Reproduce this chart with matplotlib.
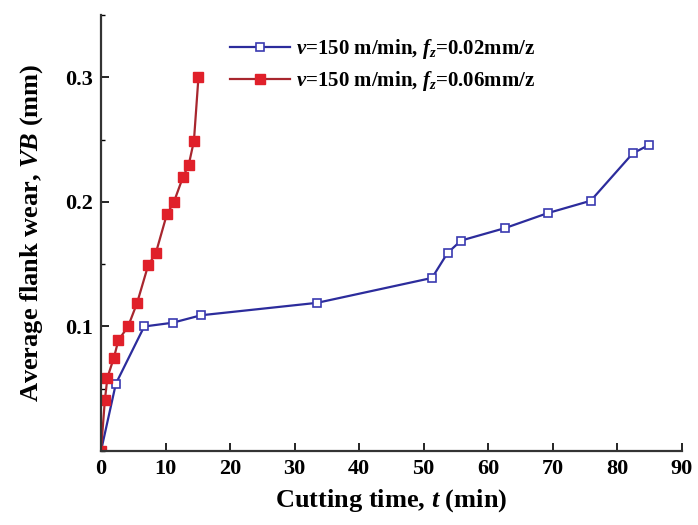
import matplotlib
matplotlib.use('Agg')
import matplotlib.pyplot as plt
from matplotlib.ticker import MultipleLocator

# flank wear data
time_fz002 = [0, 2.3, 6.7, 11.1, 15.5, 33.5, 51.3, 53.7, 55.8, 62.6, 69.2, 75.9, 82.4, 85.0]
wear_fz002 = [0, 0.054, 0.100, 0.103, 0.109, 0.119, 0.139, 0.159, 0.169, 0.179, 0.191, 0.201, 0.239, 0.246]

time_fz006 = [0, 0.6, 1.0, 2.0, 2.7, 4.2, 5.6, 7.3, 8.5, 10.2, 11.3, 12.7, 13.6, 14.4, 15.1]
wear_fz006 = [0, 0.041, 0.059, 0.075, 0.089, 0.100, 0.119, 0.149, 0.159, 0.190, 0.200, 0.220, 0.230, 0.249, 0.300]

label_fz002 = r'$v$=150 m/min, $f_z$=0.02mm/z'
label_fz006 = r'$v$=150 m/min, $f_z$=0.06mm/z'

plt.rcParams['font.family'] = 'Liberation Serif'
plt.rcParams['font.weight'] = 'bold'
plt.rcParams['axes.labelweight'] = 'bold'
plt.rcParams['mathtext.fontset'] = 'custom'
plt.rcParams['mathtext.rm'] = 'Liberation Serif:bold'
plt.rcParams['mathtext.it'] = 'Liberation Serif:italic:bold'
plt.rcParams['mathtext.bf'] = 'Liberation Serif:bold'

fig = plt.figure(figsize=(6.98, 5.25), dpi=100)
ax = fig.add_axes([0.1447, 0.141, 0.832, 0.830])

ax.plot(time_fz002, wear_fz002, color='#2c2c9c', lw=1.6, marker='s', markersize=6,
        markerfacecolor='white', markeredgecolor='#3a3ab0', markeredgewidth=1.2,
        label=label_fz002)
ax.plot(time_fz006, wear_fz006, color='#a8262e', lw=1.6, marker='s', markersize=7,
        markerfacecolor='#e0202a', markeredgecolor='#e0202a',
        label=label_fz006)

ax.set_xlim(0, 90)
ax.set_ylim(0, 0.35)
ax.xaxis.set_major_locator(MultipleLocator(10))
ax.set_yticks([0.1, 0.2, 0.3])
ax.yaxis.set_minor_locator(MultipleLocator(0.05))
ax.tick_params(direction='in', labelsize=16, width=1.2, length=6, pad=6)
ax.tick_params(which='minor', direction='in', width=1.0, length=3)

for side in ['top', 'right']:
    ax.spines[side].set_visible(False)
for side in ['left', 'bottom']:
    ax.spines[side].set_linewidth(1.6)
    ax.spines[side].set_color('#333333')

ax.set_xlabel(r'Cutting time, $t$ (min)', fontsize=19, labelpad=6)
ax.set_ylabel(r'Average flank wear, $VB$ (mm)', fontsize=19, labelpad=14)

ax.legend(loc='upper left', bbox_to_anchor=(0.302, 0.965), bbox_transform=fig.transFigure,
          frameon=False, fontsize=15, handlelength=2.9, labelspacing=0.4, handletextpad=0.3)

plt.savefig('out.png', dpi=100)
